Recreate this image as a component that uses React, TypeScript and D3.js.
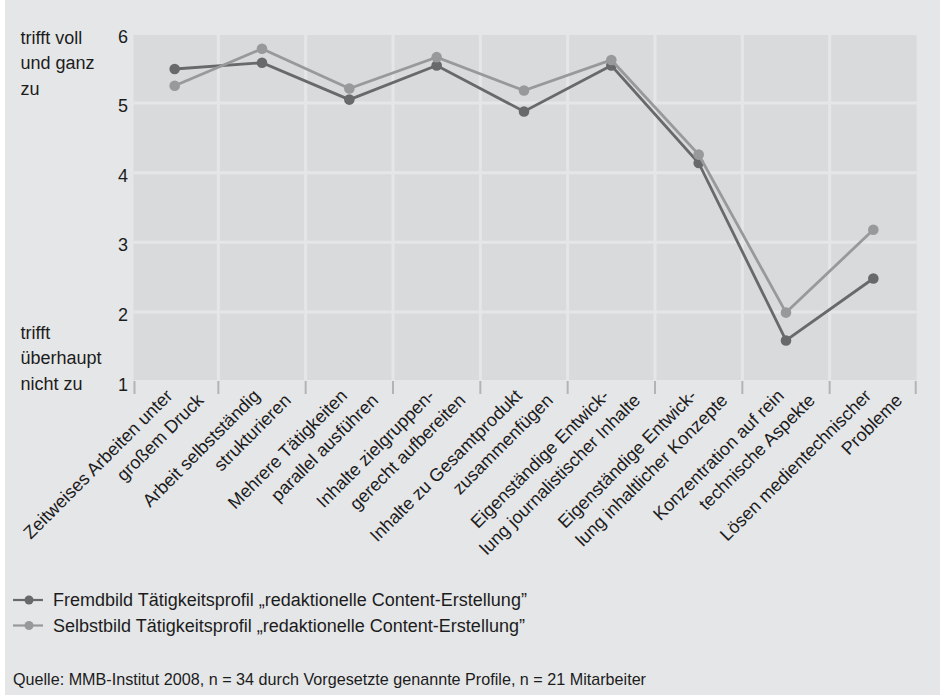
import React from "react";
import * as d3 from "d3";

const categories: string[][] = [
  ["Zeitweises Arbeiten unter", "großem Druck"],
  ["Arbeit selbstständig", "strukturieren"],
  ["Mehrere Tätigkeiten", "parallel ausführen"],
  ["Inhalte zielgruppen-", "gerecht aufbereiten"],
  ["Inhalte zu Gesamtprodukt", "zusammenfügen"],
  ["Eigenständige Entwick-", "lung journalistischer Inhalte"],
  ["Eigenständige Entwick-", "lung inhaltlicher Konzepte"],
  ["Konzentration auf rein", "technische Aspekte"],
  ["Lösen medientechnischer", "Probleme"],
];

const fremdbild: number[] = [5.49, 5.58, 5.05, 5.54, 4.88, 5.54, 4.14, 1.59, 2.48];
const selbstbild: number[] = [5.25, 5.78, 5.21, 5.66, 5.18, 5.62, 4.26, 1.99, 3.18];

const yTicks: number[] = [1, 2, 3, 4, 5, 6];
const topLabel: string[] = ["trifft voll", "und ganz", "zu"];
const bottomLabel: string[] = ["trifft", "überhaupt", "nicht zu"];

const seriesNames: string[] = [
  "Fremdbild Tätigkeitsprofil \u201Eredaktionelle Content-Erstellung\u201D",
  "Selbstbild Tätigkeitsprofil \u201Eredaktionelle Content-Erstellung\u201D",
];
const source =
  "Quelle: MMB-Institut 2008, n = 34 durch Vorgesetzte genannte Profile, n = 21 Mitarbeiter";

const OUTER = "#e5e6e8";
const PLOT = "#d9dadc";
const DARK = "#68696b";
const LIGHT = "#98999b";
const TEXT = "#1c1c1c";
const FONT = "'Liberation Sans', Arial, sans-serif";

export default function App() {
  const W = 940;
  const H = 697;
  const idx = categories.map((_, i) => i);
  const x = d3.scaleBand<number>().domain(idx).range([131, 917]);
  const bw = x.bandwidth();
  const y = d3.scaleLinear().domain([1, 6]).range([381.5, 33.5]);
  const plotLeft = 133.5;
  const plotRight = 916.7;

  const line = d3
    .line<number>()
    .x((_, i) => (x(i) as number) + bw / 2)
    .y((d) => y(d));

  const boundaries = idx.map((i) => x(i) as number).concat([x.range()[1]]);

  const series = [
    { name: seriesNames[0], values: fremdbild, color: DARK },
    { name: seriesNames[1], values: selbstbild, color: LIGHT },
  ];

  return (
    <svg
      width={W}
      height={H}
      style={{ position: "absolute", left: 0, top: 0 }}
      fontFamily={FONT}
    >
      <rect x={0} y={0} width={W} height={H} fill="#ffffff" />
      <rect x={5} y={0} width={W - 5} height={695} fill={OUTER} />
      <rect
        x={plotLeft}
        y={y(6)}
        width={plotRight - plotLeft}
        height={y(1) - y(6)}
        fill={PLOT}
      />
      {yTicks.map((t) => (
        <line
          key={"h" + t}
          x1={plotLeft}
          x2={plotRight}
          y1={y(t)}
          y2={y(t)}
          stroke={OUTER}
          strokeWidth={3}
        />
      ))}
      {boundaries.slice(1, -1).map((b, i) => (
        <line
          key={"v" + i}
          x1={b}
          x2={b}
          y1={y(6)}
          y2={y(1)}
          stroke={OUTER}
          strokeWidth={3}
        />
      ))}
      {boundaries.map((b, i) => {
        const bx = Math.min(Math.max(b, plotLeft + 1), plotRight - 1);
        return (
          <line
            key={"t" + i}
            x1={bx}
            x2={bx}
            y1={381}
            y2={394}
            stroke="#b3b4b6"
            strokeWidth={2}
          />
        );
      })}
      {yTicks.map((t) => (
        <text
          key={"yl" + t}
          x={128}
          y={y(t) + 9}
          textAnchor="end"
          fontSize={18}
          fill={TEXT}
        >
          {t}
        </text>
      ))}
      {topLabel.map((s, i) => (
        <text key={"tl" + i} x={20.5} y={43.5 + i * 25.8} fontSize={18} fill={TEXT}>
          {s}
        </text>
      ))}
      {bottomLabel.map((s, i) => (
        <text key={"bl" + i} x={20.5} y={338.5 + i * 25.8} fontSize={18} fill={TEXT}>
          {s}
        </text>
      ))}
      {categories.map((lines, i) => {
        const cx = (x(i) as number) + bw / 2;
        return (
          <g key={"xl" + i}>
            <text
              transform={`translate(${cx - 1},397) rotate(-45)`}
              textAnchor="end"
              fontSize={18}
              fill={TEXT}
            >
              {lines[0]}
            </text>
            <text
              transform={`translate(${cx + 30},401.5) rotate(-45)`}
              textAnchor="end"
              fontSize={18}
              fill={TEXT}
            >
              {lines[1]}
            </text>
          </g>
        );
      })}
      {series.map((s, si) => (
        <g key={"s" + si}>
          <path d={line(s.values) || ""} fill="none" stroke={s.color} strokeWidth={2.8} />
          {s.values.map((v, i) => (
            <circle
              key={i}
              cx={(x(i) as number) + bw / 2}
              cy={y(v)}
              r={5.3}
              fill={s.color}
            />
          ))}
        </g>
      ))}
      {series.map((s, si) => {
        const ly = 600 + si * 25.5;
        return (
          <g key={"lg" + si}>
            <line x1={13} x2={43} y1={ly} y2={ly} stroke={s.color} strokeWidth={2.2} />
            <circle cx={29} cy={ly} r={4.5} fill={s.color} />
            <text x={53} y={ly + 6.3} fontSize={18} fill={TEXT}>
              {s.name}
            </text>
          </g>
        );
      })}
      <text
        x={13}
        y={685}
        fontSize={17}
        fill={TEXT}
        textLength={633}
        lengthAdjust="spacingAndGlyphs"
      >
        {source}
      </text>
    </svg>
  );
}
